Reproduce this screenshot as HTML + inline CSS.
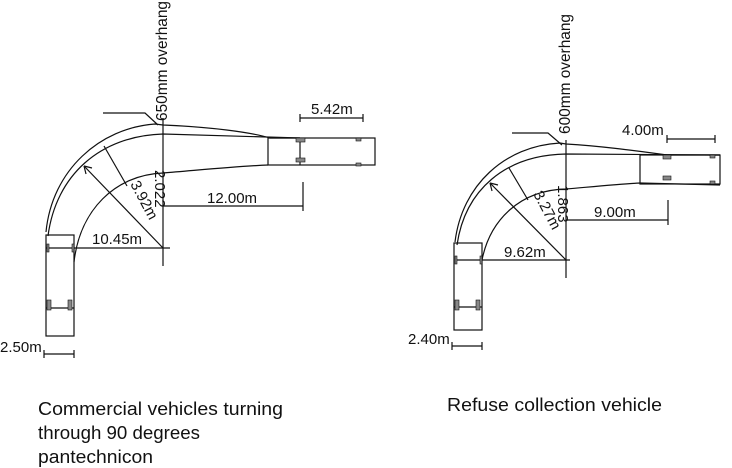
<!DOCTYPE html>
<html><head><meta charset="utf-8"><style>
html,body{margin:0;padding:0;background:#fff;}
svg{display:block;}
text{font-family:"Liberation Sans",Arial,sans-serif;fill:#111;}
</style></head><body>
<svg width="732" height="468" viewBox="0 0 732 468" xmlns="http://www.w3.org/2000/svg">
<g fill="none" stroke="#111" stroke-width="1.2">
<!-- LEFT DIAGRAM -->
<path d="M46,232 C52,170 100,128 155,124 L163,125 C210,127 250,132 270,138 L300,138"/>
<path d="M48,236 C56,175 100,136 163,134 L300,138"/>
<path d="M74,262 C80,210 115,175 163,173 C200,170 240,166 268,165"/>
<line x1="163" y1="118" x2="163" y2="266"/>
<rect x="268" y="138" width="107" height="27"/>
<line x1="300" y1="138" x2="300" y2="165"/>
<rect x="46" y="235" width="28" height="101"/>
<line x1="46" y1="308" x2="74" y2="308"/>
<line x1="163" y1="206" x2="303" y2="206"/>
<line x1="303" y1="182" x2="303" y2="211"/>
<line x1="300" y1="118" x2="363" y2="118"/>
<line x1="300" y1="114" x2="300" y2="122"/><line x1="363" y1="114" x2="363" y2="122"/>
<line x1="46" y1="248" x2="170" y2="248"/>
<line x1="44" y1="354" x2="74" y2="354"/>
<line x1="44" y1="350" x2="44" y2="358"/><line x1="74" y1="350" x2="74" y2="358"/>
<line x1="163" y1="248" x2="84" y2="166"/>
<path d="M84,166 l2,8 M84,166 l8,2"/>
<line x1="104" y1="146" x2="127" y2="186"/>
<path d="M103,113 L145,113 L158,125"/>
<!-- RIGHT DIAGRAM -->
<path d="M455,242 C462,185 505,146 560,143 L566,144 C600,146 630,150 667,155 L720,155"/>
<path d="M457,245 C465,190 505,155 566,154 L720,155"/>
<path d="M482,260 C490,220 520,190 566,189 C600,186 620,184 640,183 L720,185"/>
<line x1="566" y1="140" x2="566" y2="278"/>
<rect x="640" y="155" width="80" height="29"/>
<rect x="454" y="243" width="28" height="87"/>
<line x1="454" y1="307" x2="482" y2="307"/>
<line x1="566" y1="220" x2="668" y2="220"/>
<line x1="668" y1="200" x2="668" y2="225"/>
<line x1="667" y1="139" x2="715" y2="139"/>
<line x1="667" y1="135" x2="667" y2="143"/><line x1="715" y1="135" x2="715" y2="143"/>
<line x1="456" y1="260" x2="570" y2="260"/>
<line x1="452" y1="346" x2="482" y2="346"/>
<line x1="452" y1="342" x2="452" y2="350"/><line x1="482" y1="342" x2="482" y2="350"/>
<line x1="566" y1="260" x2="490" y2="183"/>
<path d="M490,183 l2,8 M490,183 l8,2"/>
<line x1="509" y1="168" x2="528" y2="200"/>
<path d="M512,133 L548,133 L562,145"/>
</g>
<g fill="#888" stroke="#111" stroke-width="0.6">
<rect x="296" y="138" width="9" height="4"/><rect x="296" y="158" width="9" height="4"/>
<rect x="356" y="138" width="5" height="3"/><rect x="356" y="163" width="5" height="3"/>
<rect x="47" y="300" width="4" height="10"/><rect x="68" y="300" width="4" height="10"/>
<rect x="47" y="244" width="2" height="8"/><rect x="72" y="244" width="2" height="8"/>
<rect x="663" y="155" width="8" height="4"/><rect x="663" y="176" width="8" height="4"/>
<rect x="710" y="155" width="5" height="3"/><rect x="710" y="181" width="5" height="3"/>
<rect x="455" y="300" width="4" height="10"/><rect x="476" y="300" width="4" height="10"/>
<rect x="455" y="256" width="2" height="8"/><rect x="480" y="256" width="2" height="8"/>
</g>
<g font-size="15">
<text x="167" y="121" transform="rotate(-90 167 121)" font-size="16" textLength="120" lengthAdjust="spacingAndGlyphs">650mm overhang</text>
<text x="311" y="114">5.42m</text>
<text x="207" y="203">12.00m</text>
<text x="92" y="244">10.45m</text>
<text x="0" y="352">2.50m</text>
<text x="130" y="184" transform="rotate(62 130 184)">3.92m</text>
<text x="155" y="170" transform="rotate(90 155 170)">2.022</text>
<text x="570" y="134" transform="rotate(-90 570 134)" font-size="16" textLength="120" lengthAdjust="spacingAndGlyphs">600mm overhang</text>
<text x="622" y="135">4.00m</text>
<text x="594" y="217">9.00m</text>
<text x="504" y="257">9.62m</text>
<text x="408" y="344">2.40m</text>
<text x="533" y="194" transform="rotate(62 533 194)">3.27m</text>
<text x="558" y="185" transform="rotate(90 558 185)">1.863</text>
</g>
<g font-size="18">
<text x="38" y="415" textLength="245" lengthAdjust="spacingAndGlyphs">Commercial vehicles turning</text>
<text x="38" y="439" textLength="162" lengthAdjust="spacingAndGlyphs">through 90 degrees</text>
<text x="38" y="463" textLength="115" lengthAdjust="spacingAndGlyphs">pantechnicon</text>
<text x="447" y="411" textLength="215" lengthAdjust="spacingAndGlyphs">Refuse collection vehicle</text>
</g>
</svg>
</body></html>
